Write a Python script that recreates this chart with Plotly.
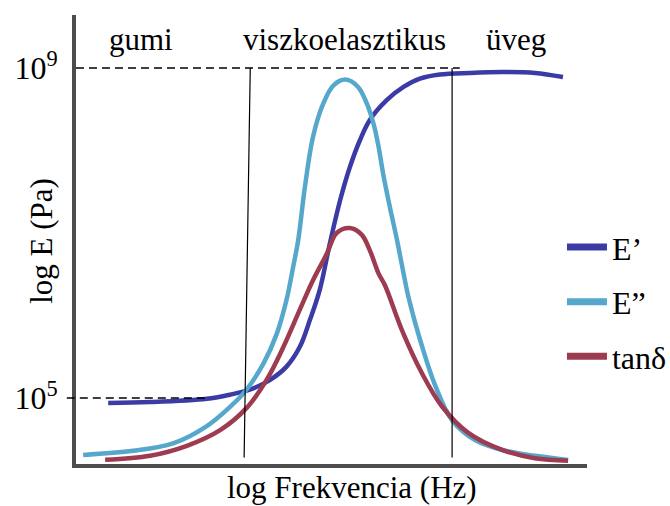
import plotly.graph_objects as go

# ---------------- data (log frequency in arbitrary units, log10 E) ----------------
log_freq_storage = [0.63, 1.45, 2.56, 3.01, 3.40, 3.80, 4.12, 4.38, 4.58, 4.77, 4.97, 5.17,
                    5.36, 5.56, 5.75, 6.08, 6.41, 6.73, 7.12, 7.71, 8.34, 8.98, 9.53]
log_E_storage = [4.94, 4.95, 4.99, 5.04, 5.10, 5.22, 5.38, 5.62, 5.95, 6.31, 6.88, 7.40,
                 7.80, 8.13, 8.37, 8.61, 8.77, 8.87, 8.92, 8.94, 8.95, 8.94, 8.89]

log_freq_loss = [0.14, 1.12, 1.90, 2.56, 3.01, 3.31, 3.67, 3.93, 4.12, 4.25, 4.35, 4.48, 4.64,
                 4.84, 5.04, 5.28, 5.52, 5.69, 5.82, 5.92, 6.01, 6.14, 6.28, 6.41, 6.50,
                 6.77, 7.03, 7.36, 7.81, 8.34, 8.98, 9.63]
log_E_loss = [4.31, 4.36, 4.45, 4.66, 4.89, 5.08, 5.42, 5.78, 6.19, 6.59, 6.92, 7.56, 8.17,
              8.57, 8.79, 8.86, 8.77, 8.57, 8.33, 8.05, 7.72, 7.32, 6.92, 6.51, 6.24,
              5.63, 5.15, 4.73, 4.49, 4.37, 4.30, 4.25]

log_freq_tan = [0.57, 1.45, 2.17, 2.82, 3.34, 3.73, 4.06, 4.38, 4.64, 4.91, 5.10, 5.36, 5.59,
                5.75, 5.92, 6.05, 6.38, 6.77, 7.16, 7.67, 8.34, 8.98, 9.63]
log_tan = [4.25, 4.30, 4.42, 4.61, 4.88, 5.22, 5.62, 6.07, 6.43, 6.75, 7.00, 7.06, 6.98,
           6.79, 6.51, 6.36, 5.82, 5.30, 4.90, 4.58, 4.37, 4.27, 4.24]

series_names = ["E\u2019", "E\u201d", "tan\u03b4"]
series_colors = ["#3b3ba6", "#55a8cc", "#9d3c51"]

region_names = ["gumi", "viszkoelasztikus", "\u00fcveg"]
region_label_x = [1.27, 5.26, 8.61]
region_label_y = 9.34
boundary_top_x = [3.41, 7.36]
boundary_bottom_x = [3.29, 7.36]
boundary_y = [4.28, 9.0]

y_tick_vals = [5, 9]
y_tick_text = ["10<sup>5</sup>", "10<sup>9</sup>"]
guide_start_x = [-0.18, 0.0]
guide_end_x = [2.58, 7.51]

X_RANGE = [0, 10]
Y_RANGE = [4.2, 9.642]

FONT = "Liberation Serif"
AXIS_COLOR = "#4d4d4d"


def to_paper_x(v):
    return (v - X_RANGE[0]) / (X_RANGE[1] - X_RANGE[0])


fig = go.Figure()

curves = [(log_freq_storage, log_E_storage), (log_freq_loss, log_E_loss), (log_freq_tan, log_tan)]
for (xs, ys), name, col in zip(curves, series_names, series_colors):
    fig.add_trace(go.Scatter(x=xs, y=ys, mode="lines", name=name, showlegend=False,
                             line=dict(color=col, width=4.5, shape="spline", smoothing=1.0),
                             hoverinfo="skip"))

# legend entries (thicker swatches, as in the reference)
for i, (name, col) in enumerate(zip(series_names, series_colors)):
    fig.add_trace(go.Scatter(x=[None], y=[None], mode="lines", name=name, legendgroup=str(i),
                             line=dict(color=col, width=7)))

shapes = []
# dashed guide lines at 10^5 and 10^9
for yv, xs0, xs1 in zip(y_tick_vals, guide_start_x, guide_end_x):
    shapes.append(dict(type="line", xref="paper", yref="y",
                       x0=to_paper_x(xs0), x1=to_paper_x(xs1), y0=yv, y1=yv,
                       line=dict(color="black", width=1.6, dash="8px,5px"), layer="above"))
# region boundaries
for xt, xb in zip(boundary_top_x, boundary_bottom_x):
    shapes.append(dict(type="line", xref="x", yref="y", x0=xb, x1=xt,
                       y0=boundary_y[0], y1=boundary_y[1],
                       line=dict(color="black", width=1.2), layer="above"))

annotations = []
for name, xv in zip(region_names, region_label_x):
    annotations.append(dict(x=xv, y=region_label_y, xref="x", yref="y", text=name,
                            showarrow=False, xanchor="center", yanchor="middle",
                            font=dict(family=FONT, size=31, color="black")))
annotations.append(dict(x=0.54, y=-0.053, xref="paper", yref="paper",
                        text="log Frekvencia (Hz)", showarrow=False,
                        xanchor="center", yanchor="middle",
                        font=dict(family=FONT, size=31, color="black")))
annotations.append(dict(x=-0.0665, y=0.497, xref="paper", yref="paper",
                        text="log E (Pa)", showarrow=False, textangle=-90,
                        xanchor="center", yanchor="middle",
                        font=dict(family=FONT, size=31, color="black")))

fig.update_layout(
    width=670, height=506,
    margin=dict(l=76, r=83, t=15, b=42, autoexpand=False),
    paper_bgcolor="white", plot_bgcolor="white",
    font=dict(family=FONT, color="black"),
    xaxis=dict(range=X_RANGE, showline=True, linewidth=4, linecolor=AXIS_COLOR,
               showticklabels=False, ticks="", showgrid=False, zeroline=False),
    yaxis=dict(range=Y_RANGE, showline=True, linewidth=4, linecolor=AXIS_COLOR,
               tickvals=y_tick_vals, ticktext=y_tick_text, ticks="",
               tickfont=dict(family=FONT, size=32, color="black"),
               ticklabelstandoff=8, showgrid=False, zeroline=False),
    legend=dict(x=0.951, y=0.544, xanchor="left", yanchor="top",
                font=dict(family=FONT, size=32, color="black"),
                bgcolor="rgba(0,0,0,0)", borderwidth=0, tracegroupgap=10,
                traceorder="grouped", itemwidth=40),
    shapes=shapes,
    annotations=annotations,
)

fig.write_html("out.html")
